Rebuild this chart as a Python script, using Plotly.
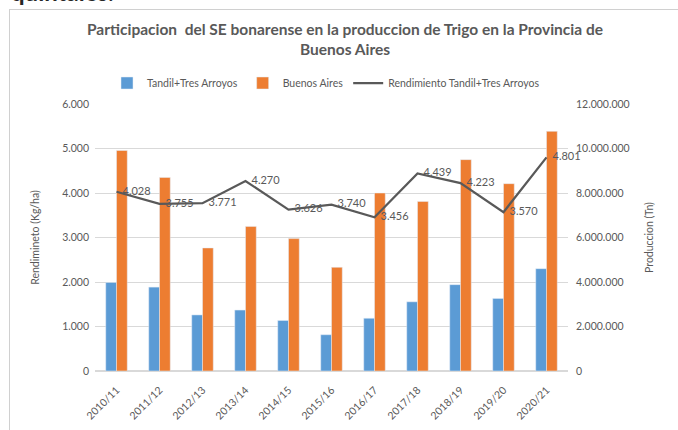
import plotly.graph_objects as go

categories = ["2010/11", "2011/12", "2012/13", "2013/14", "2014/15", "2015/16",
              "2016/17", "2017/18", "2018/19", "2019/20", "2020/21"]
tandil_prod = [3980000, 3770000, 2520000, 2740000, 2270000, 1630000,
               2370000, 3110000, 3880000, 3260000, 4600000]
bsas_prod = [9910000, 8700000, 5530000, 6500000, 5950000, 4660000,
             8000000, 7620000, 9500000, 8420000, 10770000]
rendimiento = [4028, 3755, 3771, 4270, 3626, 3740, 3456, 4439, 4223, 3570, 4801]
rend_labels = ["4.028", "3.755", "3.771", "4.270", "3.626", "3.740", "3.456",
               "4.439", "4.223", "3.570", "4.801"]
left_ticks = [0, 1000, 2000, 3000, 4000, 5000, 6000]
left_ticktext = ["0", "1.000", "2.000", "3.000", "4.000", "5.000", "6.000"]
right_ticks = [0, 2000000, 4000000, 6000000, 8000000, 10000000, 12000000]
right_ticktext = ["0", "2.000.000", "4.000.000", "6.000.000", "8.000.000",
                  "10.000.000", "12.000.000"]

W, H = 678, 430
L, T = 95, 104
R = W - 568
B = H - 371
PW, PH = W - L - R, H - T - B


def px(x):  # screenshot px -> paper
    return (x - L) / PW


def py(y):
    return (H - B - y) / PH


GRAY = "#595959"
FONT = "Lato"

fig = go.Figure()
fig.add_trace(go.Bar(x=categories, y=tandil_prod, name="Tandil+Tres Arroyos",
                     marker=dict(color="#5B9BD5"), yaxis="y"))
fig.add_trace(go.Bar(x=categories, y=bsas_prod, name="Buenos Aires",
                     marker=dict(color="#ED7D31"), yaxis="y"))
fig.add_trace(go.Scatter(x=categories, y=rendimiento, name="Rendimiento Tandil+Tres Arroyos",
                         mode="lines+markers+text", text=rend_labels, textposition="middle right",
                         textfont=dict(size=11, color=GRAY, family=FONT),
                         marker=dict(size=8, color="rgba(0,0,0,0)"),
                         line=dict(color=GRAY, width=2.25), yaxis="y2", cliponaxis=False))

fig.update_layout(
    width=W, height=H,
    margin=dict(l=L, r=R, t=T, b=B, autoexpand=False),
    paper_bgcolor="white", plot_bgcolor="white",
    font=dict(family=FONT, size=10, color=GRAY),
    barmode="group", bargap=0.5, bargroupgap=0,
    showlegend=True,
    legend=dict(orientation="h", x=px(326), xanchor="center", y=py(83), yanchor="middle",
                font=dict(size=10.5, color=GRAY, family=FONT), traceorder="normal",
                itemwidth=30, bgcolor="rgba(0,0,0,0)"),
    xaxis=dict(type="category", range=[-0.5, 10.5], tickangle=-45, showgrid=False,
               showline=False, ticks="", automargin=False, ticklabelstandoff=10,
               tickfont=dict(size=10.5, color=GRAY)),
    yaxis=dict(range=[0, 12000000], tickvals=right_ticks, ticktext=right_ticktext,
               side="right", showgrid=True, gridcolor="#D9D9D9", gridwidth=1, zeroline=True,
               zerolinecolor="#D9D9D9", showline=False, ticks="", automargin=False,
               ticklabelstandoff=7, tickfont=dict(size=10.5, color=GRAY),
               title=dict(text="Produccion (Tn)", font=dict(size=10.5, color=GRAY), standoff=16)),
    yaxis2=dict(range=[0, 6000], tickvals=left_ticks, ticktext=left_ticktext,
                overlaying="y", side="left", showgrid=False, zeroline=False,
                showline=False, ticks="", automargin=False, ticklabelstandoff=5,
                tickfont=dict(size=10.5, color=GRAY),
                title=dict(text="Rendimineto (Kg/ha)", font=dict(size=10.5, color=GRAY), standoff=20)),
)

fig.add_annotation(xref="paper", yref="paper", x=px(345), y=py(39), xanchor="center",
                   yanchor="middle", showarrow=False, align="center",
                   text="<b>Participacion  del SE bonarense en la produccion de Trigo en la Provincia de<br>Buenos Aires</b>",
                   font=dict(size=15.5, color=GRAY, family=FONT))
fig.add_annotation(xref="paper", yref="paper", x=px(9), y=py(8), xanchor="left",
                   yanchor="bottom", showarrow=False,
                   text="<b>quintales</b>.", font=dict(size=24, color="#262626", family=FONT))
# chart frame (top and left edges)
fig.add_shape(type="line", xref="paper", yref="paper", x0=px(9), x1=px(678),
              y0=py(9.5), y1=py(9.5), line=dict(color="#D0D0D0", width=1), layer="above")
fig.add_shape(type="line", xref="paper", yref="paper", x0=px(9.5), x1=px(9.5),
              y0=py(9), y1=py(430), line=dict(color="#D0D0D0", width=1), layer="above")

fig.write_html("out.html", config={"displayModeBar": False},
               post_script="document.body.style.margin='0';")
